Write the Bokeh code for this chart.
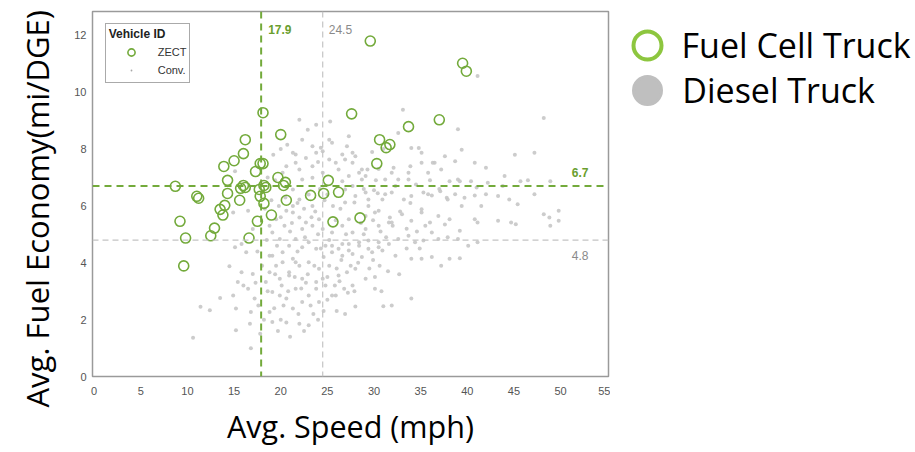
import numpy as np
from bokeh.plotting import figure
from bokeh.layouts import row
from bokeh.models import (Range1d, FixedTicker, Span, Label, Legend, LegendItem,
                          ColumnDataSource, Title)
from bokeh.embed import file_html
from bokeh.resources import INLINE

# ---------------- data ----------------
# Fuel cell trucks (ZECT): avg speed (mph), avg fuel economy (mi/DGE)
zect_speed = [29.6, 39.5, 39.9, 18.1, 27.6, 20.0, 33.7, 37.0, 30.6, 31.7, 31.3, 30.3,
              16.2, 16.0, 15.0, 13.9, 17.8, 18.1, 17.3, 14.3, 8.7, 16.0, 16.2, 15.7,
              18.2, 18.4, 17.7, 19.7, 20.5, 20.3, 25.1, 11.0, 11.2, 14.3, 15.6, 17.8,
              18.2, 14.0, 13.5, 13.8, 9.2, 17.5, 12.9, 12.5, 9.8, 16.6, 9.6, 19.0,
              20.6, 23.2, 24.6, 26.2, 25.6, 28.5]
zect_fe = [11.80, 11.02, 10.74, 9.28, 9.24, 8.51, 8.79, 9.03, 8.33, 8.16, 8.05, 7.49,
           8.33, 7.84, 7.59, 7.39, 7.49, 7.49, 7.21, 6.90, 6.69, 6.72, 6.65, 6.62,
           6.72, 6.65, 6.58, 7.00, 6.83, 6.72, 6.90, 6.34, 6.27, 6.44, 6.20, 6.34,
           6.09, 6.02, 5.88, 5.68, 5.46, 5.46, 5.22, 4.95, 4.87, 4.87, 3.89, 5.68,
           6.20, 6.37, 6.44, 6.48, 5.44, 5.58]

# Conventional diesel trucks, read region by region: (speed, fuel economy)
conv_upper = [(41.1, 10.57), (48.2, 9.09), (33.1, 9.38), (39.0, 8.70), (45.1, 7.80),
              (47.2, 7.87), (34.0, 8.04), (34.8, 8.04), (35.1, 7.87), (37.6, 7.75),
              (39.4, 7.98), (40.8, 7.52), (42.0, 7.34), (44.0, 7.05), (45.7, 6.87),
              (48.9, 6.87), (36.5, 7.52), (37.2, 7.28), (33.9, 7.40), (32.6, 8.57),
              (27.7, 7.87), (27.1, 8.10), (26.9, 7.63), (28.4, 7.17), (29.1, 7.05),
              (31.9, 7.17), (32.6, 6.93), (33.7, 6.93), (35.8, 7.17), (38.1, 6.87),
              (39.0, 6.93), (40.4, 6.87), (42.2, 6.82)]
conv_right = [(31.2, 6.41), (31.9, 6.47), (33.2, 6.23), (34.0, 6.35), (35.3, 6.47),
              (36.2, 6.37), (37.1, 6.52), (37.8, 6.29), (38.7, 6.41), (39.7, 6.29),
              (40.8, 6.37), (42.0, 6.41), (43.3, 6.35), (44.5, 6.23), (45.4, 6.06),
              (47.2, 6.41), (29.1, 5.65), (30.5, 5.83), (31.7, 5.59), (33.0, 5.71),
              (34.0, 5.48), (35.1, 5.77), (36.0, 5.42), (36.9, 5.65), (38.1, 5.53),
              (39.2, 5.13), (41.1, 5.42), (43.3, 5.48), (44.7, 5.42), (45.2, 5.36),
              (48.2, 5.71), (48.8, 5.59), (49.8, 5.83), (49.8, 5.48), (48.9, 5.30),
              (25.5, 4.60), (26.2, 4.49), (27.3, 4.66), (28.4, 4.72), (29.4, 4.78),
              (30.5, 4.55), (31.6, 4.66), (32.6, 4.84), (33.7, 4.95), (34.4, 4.72),
              (35.3, 4.78), (36.2, 5.07), (36.9, 4.84), (37.9, 4.90), (39.0, 4.84),
              (40.1, 4.60), (41.1, 4.72), (26.6, 4.25), (27.7, 4.31), (28.7, 4.20),
              (29.8, 4.37), (30.9, 4.43), (32.3, 4.25), (34.0, 4.14), (35.1, 4.14),
              (36.2, 4.20), (37.2, 3.90), (38.1, 4.14), (39.2, 4.16), (26.2, 3.55),
              (27.1, 3.67), (28.0, 3.79), (26.8, 3.09), (27.7, 3.20), (29.1, 3.44),
              (30.1, 3.50), (25.9, 2.85), (34.0, 2.74), (31.0, 2.47), (31.9, 2.50),
              (26.9, 2.20), (28.0, 2.46), (30.1, 3.09), (30.8, 3.00)]
conv_core = [(20.6, 5.83), (21.3, 5.77), (22.0, 5.59), (22.7, 5.42), (22.3, 5.19),
             (23.4, 5.30), (24.1, 5.53), (24.5, 5.19), (25.5, 5.07), (26.6, 5.30),
             (27.3, 5.53), (27.7, 5.07), (29.1, 5.19), (30.5, 5.30), (31.6, 5.42),
             (19.1, 5.07), (19.9, 4.84), (20.9, 4.60), (21.6, 4.84), (22.3, 4.55),
             (23.0, 4.72), (23.8, 4.49), (24.8, 4.60), (25.5, 4.37), (26.6, 4.66),
             (27.3, 4.43), (28.4, 4.60), (29.4, 4.49), (30.5, 4.72), (19.1, 4.25),
             (20.2, 4.02), (21.3, 4.14), (22.0, 3.90), (23.0, 4.02), (24.1, 3.79),
             (25.2, 3.90), (26.0, 3.80), (20.9, 3.67), (22.3, 3.44), (19.9, 3.44),
             (23.8, 3.32), (24.8, 3.20), (21.6, 3.09), (23.0, 2.85), (20.6, 2.74),
             (19.1, 2.97), (24.1, 2.62), (25.5, 2.85), (27.2, 2.95), (19.5, 5.53),
             (18.8, 5.30), (27.9, 6.12), (29.4, 6.00), (29.1, 6.47), (30.9, 6.23),
             (26.9, 6.12), (22.0, 6.23), (23.4, 6.00), (21.3, 6.00)]
conv_mid = [(21.6, 7.81), (22.7, 7.69), (23.8, 7.87), (25.2, 7.63), (26.6, 7.81),
            (27.7, 7.52), (23.4, 7.40), (22.0, 7.28), (24.5, 7.17), (26.2, 7.28),
            (27.3, 7.05), (28.7, 7.28), (22.3, 6.93), (23.4, 6.99), (26.6, 6.87),
            (21.3, 6.58), (26.9, 6.58), (27.7, 6.70), (20.7, 8.15), (22.3, 8.33),
            (24.3, 8.05), (25.5, 8.22), (22.9, 8.68), (22.0, 9.03), (23.8, 8.86),
            (25.3, 8.97), (23.4, 8.10), (24.5, 7.92), (25.2, 8.33), (21.3, 7.87),
            (21.6, 7.52), (24.0, 7.55), (25.9, 7.52), (28.0, 7.75), (20.2, 7.17),
            (20.6, 7.40)]
conv_left = [(14.5, 3.88), (15.4, 3.32), (16.0, 3.20), (16.5, 3.09), (17.0, 3.61),
             (13.5, 2.76), (14.9, 2.85), (15.2, 2.39), (11.4, 2.45), (12.4, 2.33),
             (16.8, 2.27), (15.2, 1.63), (10.6, 1.36), (16.8, 0.99), (16.7, 1.86),
             (15.8, 3.67), (16.3, 4.37), (17.2, 2.74), (17.6, 2.50), (18.8, 4.25),
             (19.5, 3.90), (20.2, 4.37), (20.9, 3.55), (21.6, 4.02), (19.9, 2.85),
             (21.3, 2.39), (22.3, 2.62), (23.0, 1.80), (22.0, 1.86), (18.8, 2.27),
             (19.1, 1.92), (23.8, 3.09), (24.5, 3.44), (25.0, 2.70), (18.4, 3.32),
             (18.8, 3.67), (15.1, 7.22), (16.5, 5.83), (14.9, 5.77), (15.8, 4.66),
             (17.0, 5.19), (15.1, 4.55)]
conv_more = [(29.3, 7.28), (32.1, 7.34), (33.7, 7.17), (35.1, 7.52), (36.3, 7.52),
             (38.7, 7.57), (39.2, 6.87), (27.3, 8.45), (31.2, 6.93), (28.7, 6.93),
             (28.0, 6.35), (29.4, 6.23), (30.4, 6.45), (33.9, 6.10), (35.8, 6.41),
             (37.9, 6.23), (39.4, 6.00), (41.5, 6.00), (30.1, 5.77), (35.1, 5.88),
             (40.8, 5.53), (31.9, 5.42), (35.5, 5.30), (37.6, 5.35), (22.5, 1.6),
             (21.0, 1.4), (24.0, 2.0), (26.0, 2.3), (23.5, 2.2), (20.0, 2.0)]
conv_dense = [(19.6, 4.6), (20.4, 5.3), (21.0, 5.1), (21.8, 4.4), (22.6, 4.9),
              (23.3, 5.6), (24.0, 5.0), (24.6, 4.2), (25.2, 4.8), (25.9, 5.5),
              (26.4, 5.9), (27.0, 5.0), (19.4, 3.6), (20.1, 3.2), (20.8, 3.0),
              (21.5, 3.5), (22.2, 3.1), (22.9, 3.6), (23.6, 3.9), (24.3, 4.5),
              (25.0, 3.5), (25.8, 3.2), (26.5, 4.1), (27.5, 3.9), (28.3, 4.0),
              (28.9, 5.0), (29.9, 5.5), (30.7, 5.1), (31.3, 4.9), (32.0, 5.3),
              (32.8, 5.8), (33.5, 5.2), (34.6, 5.1), (28.6, 5.4), (18.5, 4.8),
              (18.3, 5.9), (19.0, 6.2), (19.8, 6.0), (20.5, 6.3), (23.0, 6.4),
              (24.7, 6.2), (25.6, 6.0), (24.2, 6.6), (25.0, 6.4), (21.8, 6.1),
              (22.5, 5.9), (23.7, 5.8), (20.0, 5.6), (21.2, 5.4), (19.3, 2.4),
              (20.3, 2.5), (21.9, 2.2), (23.2, 2.5), (24.6, 2.3), (22.7, 3.3),
              (26.3, 3.35), (27.9, 3.0), (29.5, 3.8), (29.9, 4.1), (30.6, 3.9),
              (31.5, 3.7), (32.7, 3.6), (33.5, 4.5), (34.9, 4.5), (18.2, 2.0),
              (17.8, 1.5), (19.7, 1.6), (20.6, 1.9), (18.6, 3.0), (18.0, 3.9),
              (17.5, 4.4), (17.3, 3.3), (29.8, 7.9), (30.5, 7.3), (31.0, 8.0),
              (30.2, 6.9), (28.9, 6.6), (30.0, 6.55), (32.3, 6.7), (34.5, 6.75),
              (36.0, 6.9), (37.0, 6.6), (41.0, 6.65), (43.8, 6.7), (46.5, 6.9),
              (18.6, 7.0), (19.4, 6.9), (19.2, 7.8), (20.0, 8.0)]

conv_groups = [conv_upper, conv_right, conv_core, conv_mid, conv_left, conv_more, conv_dense]
conv_speed = [pt[0] for g in conv_groups for pt in g]
conv_fe = [pt[1] for g in conv_groups for pt in g]

# averages (reference lines)
zect_avg_speed, conv_avg_speed = 17.9, 24.5
zect_avg_fe, conv_avg_fe = 6.7, 4.8

x_ticks = [0, 5, 10, 15, 20, 25, 30, 35, 40, 45, 50, 55]
y_ticks = [0, 2, 4, 6, 8, 10, 12]

GREEN = "#73aa3b"
GREEN_TXT = "#6a9e2e"
GRAY_PT = "#c6c6c6"
GRAY_LINE = "#c4c4c4"

# ---------------- main figure ----------------
p = figure(width=610, height=452, output_backend="svg", toolbar_location=None,
           x_range=Range1d(-0.18, 55.14), y_range=Range1d(0, 12.84),
           min_border_left=88, min_border_right=2, min_border_top=11,
           min_border_bottom=75)
p.background_fill_color = "white"
p.border_fill_color = "white"
p.outline_line_color = "#9a9a9a"
p.outline_line_width = 1.5
p.xgrid.visible = False
p.ygrid.visible = False

for ax in (p.xaxis[0], p.yaxis[0]):
    ax.axis_line_color = None
    ax.major_tick_line_color = None
    ax.minor_tick_line_color = None
    ax.major_tick_out = 0
    ax.major_tick_in = 0
    ax.minor_tick_out = 0
    ax.major_label_text_font = "Liberation Sans"
    ax.major_label_text_font_size = "11px"
    ax.major_label_text_color = "#555555"

p.xaxis.ticker = FixedTicker(ticks=x_ticks)
p.yaxis.ticker = FixedTicker(ticks=y_ticks)
p.xaxis.major_label_standoff = 10
p.yaxis.major_label_standoff = 6

p.add_layout(Title(text="Avg. Speed (mph)", text_font="Open Sans",
                   text_font_size="30.5px", text_font_style="normal", text_color="black",
                   align="center", standoff=11), "below")
p.add_layout(Title(text="Avg. Fuel Economy(mi/DGE)", text_font="Open Sans",
                   text_font_size="31px", text_font_style="normal", text_color="black",
                   align="left", offset=-31, standoff=27), "left")

conv_src = ColumnDataSource(data=dict(x=conv_speed, y=conv_fe))
zect_src = ColumnDataSource(data=dict(x=zect_speed, y=zect_fe))

r_conv = p.scatter(x="x", y="y", source=conv_src, size=4, fill_color=GRAY_PT,
                   line_color=None, fill_alpha=0.9)

# reference lines
p.add_layout(Span(location=conv_avg_speed, dimension="height", line_color=GRAY_LINE,
                  line_width=1.2, line_dash="6 4"))
p.add_layout(Span(location=conv_avg_fe, dimension="width", line_color=GRAY_LINE,
                  line_width=1.2, line_dash="6 4"))
p.add_layout(Span(location=zect_avg_speed, dimension="height", line_color=GREEN,
                  line_width=2, line_dash="7 5"))
p.add_layout(Span(location=zect_avg_fe, dimension="width", line_color=GREEN,
                  line_width=2, line_dash="7 5"))

r_zect = p.scatter(x="x", y="y", source=zect_src, size=10, fill_color=None,
                   line_color=GREEN, line_width=1.6)

# labels on the reference lines
p.add_layout(Label(x=zect_avg_speed, y=12.21, x_offset=7, text=f"{zect_avg_speed}",
                   text_font="Liberation Sans", text_font_size="12px",
                   text_font_style="bold", text_color=GREEN_TXT, text_baseline="middle"))
p.add_layout(Label(x=conv_avg_speed, y=12.21, x_offset=6, text=f"{conv_avg_speed}",
                   text_font="Liberation Sans", text_font_size="12px",
                   text_color="#8a8a8a", text_baseline="middle"))
p.add_layout(Label(x=53.0, y=7.18, text=f"{zect_avg_fe}", text_align="right",
                   text_font="Liberation Sans", text_font_size="12px",
                   text_font_style="bold", text_color=GREEN_TXT, text_baseline="middle"))
p.add_layout(Label(x=53.0, y=4.24, text=f"{conv_avg_fe}", text_align="right",
                   text_font="Liberation Sans", text_font_size="12px",
                   text_color="#8a8a8a", text_baseline="middle"))

# key-only renderers (a single NaN point each, never drawn in the plot area)
def key_src():
    return ColumnDataSource(data=dict(x=np.array([np.nan]), y=np.array([np.nan])))

r_conv_key = p.scatter(x="x", y="y", source=key_src(), marker="dot", size=8,
                       line_color="#a8a8a8", fill_color="#a8a8a8")

inner = Legend(items=[LegendItem(label="ZECT", renderers=[r_zect]),
                      LegendItem(label="Conv.", renderers=[r_conv_key])],
               location=(12.7, 293.5), title="Vehicle ID",
               title_text_font="Liberation Sans", title_text_font_size="12px",
               title_text_font_style="bold", title_text_color="#222222", title_standoff=2,
               label_text_font="Liberation Sans", label_text_font_size="11px",
               label_text_color="#333333", glyph_width=44, glyph_height=18,
               label_height=18, label_standoff=5, spacing=0, padding=3, margin=0,
               border_line_color="#555555", border_line_width=1,
               background_fill_color="white", background_fill_alpha=1)
p.add_layout(inner)

# ---------------- side legend panel ----------------
lg = figure(width=305, height=452, output_backend="svg", toolbar_location=None,
            x_range=Range1d(0, 1), y_range=Range1d(0, 1),
            x_axis_location=None, y_axis_location=None,
            min_border_left=0, min_border_right=0, min_border_top=0, min_border_bottom=0)
lg.outline_line_color = None
lg.xgrid.visible = False
lg.ygrid.visible = False

r_fc_key = lg.scatter(x="x", y="y", source=key_src(), size=28, fill_color=None,
                      line_color="#8dc63f", line_width=4)
r_ds_key = lg.scatter(x="x", y="y", source=key_src(), size=28, fill_color="#bfbfbf",
                      line_color="#bfbfbf", line_width=3)

common = dict(glyph_width=70, glyph_height=72, label_height=72, label_standoff=0,
              padding=0, margin=0, border_line_color=None, background_fill_alpha=0,
              label_text_font="Open Sans", label_text_font_size="34px",
              label_text_color="black")
lg.add_layout(Legend(items=[LegendItem(label="Fuel Cell Truck", renderers=[r_fc_key])],
                     location=(1.5, 295), **common))
lg.add_layout(Legend(items=[LegendItem(label="Diesel Truck", renderers=[r_ds_key])],
                     location=(2.3, 250.3), **common))

layout = row(p, lg)
open("out.html", "w").write(file_html(layout, INLINE))
